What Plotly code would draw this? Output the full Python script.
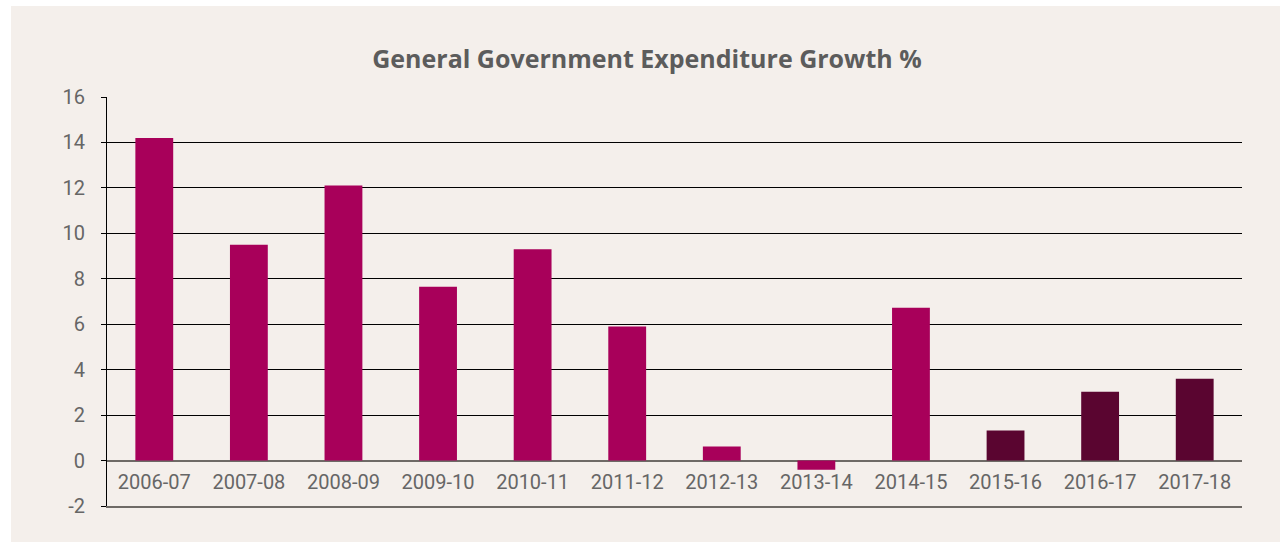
import plotly.graph_objects as go

categories = ["2006-07", "2007-08", "2008-09", "2009-10", "2010-11", "2011-12",
              "2012-13", "2013-14", "2014-15", "2015-16", "2016-17", "2017-18"]
growth = [14.2, 9.5, 12.1, 7.65, 9.3, 5.9, 0.62, -0.4, 6.73, 1.32, 3.03, 3.6]
bar_colors = ["#a8005a"] * 9 + ["#5a0530"] * 3
y_ticks = [-2, 0, 2, 4, 6, 8, 10, 12, 14, 16]
y_tick_labels = ["-2", "0", "2", "4", "6", "8", "10", "12", "14", "16"]

W, H = 1280, 542
L, R, T, B = 107, 38, 97, 36
ymin, ymax = -2, 16
zero_pos = (0 - ymin) / (ymax - ymin)

fig = go.Figure()
fig.add_trace(go.Bar(x=categories, y=growth, marker=dict(color=bar_colors, line=dict(width=0)),
                     showlegend=False, hoverinfo="x+y"))
fig.add_trace(go.Bar(x=categories, y=[None]*len(categories), xaxis="x2", showlegend=False, hoverinfo="skip"))

fig.update_layout(
    width=W, height=H,
    margin=dict(l=L, r=R, t=T, b=B, pad=0),
    paper_bgcolor="white",
    plot_bgcolor="rgba(0,0,0,0)",
    bargap=0.6,
    font=dict(family="Roboto, sans-serif", color="#666666"),
    title=dict(text="<b>General Government Expenditure Growth %</b>",
               x=(374 + 920) / 2 / W, xanchor="center", xref="container",
               y=1 - 59 / H, yanchor="middle", yref="container",
               font=dict(size=25, color="#5c5c5c", family="Open Sans, sans-serif")),
    xaxis=dict(type="category", anchor="free", position=zero_pos, showline=False, showgrid=False,
               ticks="outside", ticklen=3, tickcolor="rgba(0,0,0,0)",
               tickfont=dict(size=20, color="#666666"), zeroline=False),
    xaxis2=dict(type="category", overlaying="x", matches="x", anchor="y", side="bottom", showline=True,
                linecolor="#6e6a66", linewidth=2, showticklabels=False, ticks="",
                showgrid=False, zeroline=False),
    yaxis=dict(range=[ymin, ymax], tickvals=y_ticks, ticktext=y_tick_labels,
               showgrid=True, gridcolor="#000000",
               gridwidth=1, zeroline=True, zerolinecolor="#6e6a66", zerolinewidth=2,
               showline=True, linecolor="#000000", linewidth=1,
               ticks="outside", ticklen=5, tickcolor="#000000", ticklabelstandoff=12,
               tickfont=dict(size=20, color="#666666")),
    shapes=[dict(type="rect", xref="paper", yref="paper",
                 x0=(11 - L) / (W - L - R), x1=(W - L) / (W - L - R) + 0.01,
                 y0=-B / (H - T - B) - 0.01, y1=(H - 6 - B) / (H - T - B),
                 fillcolor="#f4efeb", line=dict(width=0), layer="below")],
)

fig.write_html("out.html")
